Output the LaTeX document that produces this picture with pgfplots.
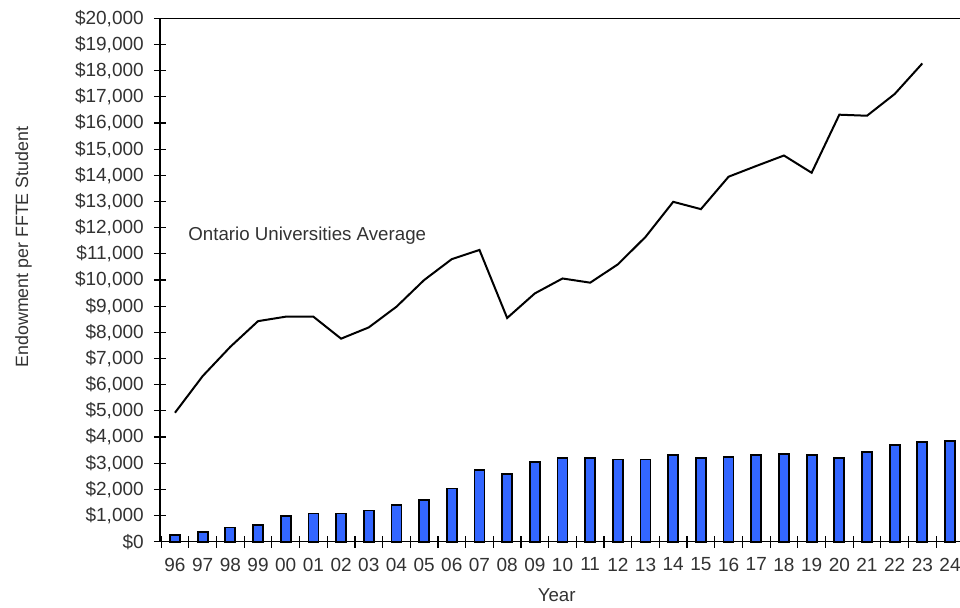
\documentclass[border=0pt]{standalone}
\usepackage{pgfplots}
\pgfplotsset{compat=1.18}
\usepackage{fontspec}
\setmainfont{Liberation Sans}
\definecolor{barblue}{RGB}{51,102,255}
\definecolor{txt}{RGB}{50,50,50}
\begin{document}
\begin{tikzpicture}
\begin{axis}[
  at={(80pt,32.65pt)}, anchor=south west,
  width=400pt, height=261.65pt, scale only axis,
  xmin=-0.542, xmax=28.36,
  ymin=0, ymax=20000,
  axis x line*=bottom, axis y line*=left,
  axis line style={black, line width=0.6pt},
  xtick={0,...,28},
  xticklabels={96,97,98,99,00,01,02,03,04,05,06,07,08,09,10,11,12,13,14,15,16,17,18,19,20,21,22,23,24},
  minor xtick={-0.5,0.5,...,27.5},
  major x tick style={draw=none},
  minor x tick style={black, line width=0.6pt},
  minor tick length=6pt,
  ytick={0,1000,...,20000},
  major y tick style={black, line width=0.6pt},
  major tick length=6pt,
  tick align=center,
  scaled y ticks=false,
  yticklabel={\$\pgfmathprintnumber[assume math mode=true,1000 sep={,}]{\tick}},
  tick label style={font=\fontsize{9.5}{11}\selectfont, text=txt},
  yticklabel style={xshift=-1.6pt},
  xticklabel style={yshift=-1.5pt},
  xlabel={Year},
  xlabel style={at={(axis description cs:0.4959,-0.1028)}, anchor=center, font=\fontsize{9.35}{11}\selectfont, text=txt},
  ylabel={Endowment per FFTE Student},
  ylabel style={at={(axis description cs:-0.165,0.563)}, anchor=base, font=\fontsize{8.9}{11}\selectfont, text=txt},
  clip=false,
]
\addplot[ybar, bar width=5pt, fill=barblue, draw=black, line width=0.9pt] coordinates {
(0,250) (1,370) (2,546) (3,648) (4,978) (5,1080) (6,1080) (7,1194) (8,1410) (9,1588)
(10,2033) (11,2745) (12,2592) (13,3037) (14,3189) (15,3189) (16,3138) (17,3138) (18,3304)
(19,3189) (20,3240) (21,3304) (22,3367) (23,3304) (24,3189) (25,3418) (26,3685) (27,3800) (28,3850)
};
\addplot[black, line width=1pt, mark=none] coordinates {
(0,4930) (1,6330) (2,7450) (3,8430) (4,8600) (5,8600) (6,7760) (7,8190) (8,8980) (9,10000)
(10,10800) (11,11150) (12,8550) (13,9490) (14,10060) (15,9900) (16,10600) (17,11650) (18,12990)
(19,12710) (20,13950) (21,14360) (22,14760) (23,14100) (24,16320) (25,16280) (26,17110) (27,18280)
};
\draw[black, line width=0.6pt] (rel axis cs:0,1) -- (rel axis cs:1,1);
\node[anchor=base west, inner sep=0pt, font=\fontsize{9.35}{11}\selectfont, text=txt] at (axis cs:0.47,11502) {Ontario Universities Average};
\end{axis}
\pgfresetboundingbox
\path (0,0) rectangle (480pt,303.5pt);
\end{tikzpicture}
\end{document}
